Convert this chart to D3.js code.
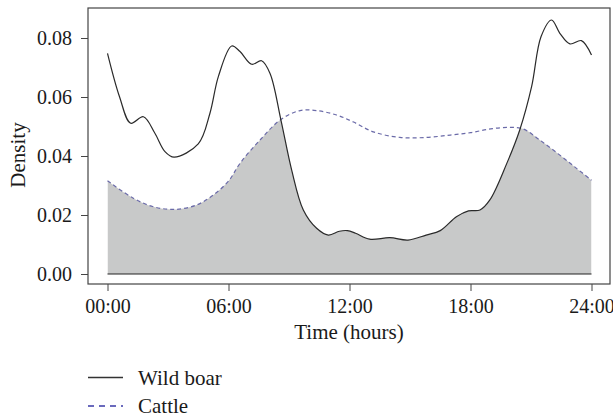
<!DOCTYPE html>
<html><head><meta charset="utf-8">
<script src="https://cdn.jsdelivr.net/npm/d3@7"></script>
<style>body{margin:0;background:#fff}svg{display:block}text{font-family:"Liberation Serif","DejaVu Serif",serif;fill:#1a1a1a}</style>
</head><body>
<svg id="c" width="613" height="413"></svg>
<script>
// Data (hours, density)
const boarHours = [0,0.6,1.15,1.78,2.35,2.85,3.3,4.5,5.08,5.5,6.16,6.57,7.15,7.64,8.06,8.6,9.13,9.71,10.37,10.95,11.5,11.9,12.3,13.0,14.0,14.9,15.8,16.5,17.3,17.9,18.47,18.96,19.8,20.45,21.03,21.5,22.02,22.43,22.93,23.5,24];
const boarDensity = [0.0748,0.0600,0.0511,0.0533,0.0477,0.0415,0.0396,0.0441,0.0545,0.0670,0.0773,0.0754,0.0711,0.0723,0.0680,0.0522,0.0353,0.0217,0.0155,0.0132,0.0145,0.0147,0.0138,0.0118,0.0123,0.0115,0.0132,0.0147,0.0194,0.0214,0.0217,0.0251,0.0375,0.0490,0.0635,0.0805,0.0861,0.0816,0.0780,0.0791,0.0742];
const cattleHours = [0,1.28,2.27,3.35,4.42,5.25,6.0,6.57,7.56,8.6,9.55,10.37,11.36,12.2,13.18,14.5,15.83,17.0,18.0,19.0,19.9,20.6,21.44,22.43,23.26,24];
const cattleDensity = [0.0316,0.0257,0.0228,0.0219,0.0234,0.0268,0.0315,0.0375,0.0454,0.0524,0.0554,0.0554,0.0539,0.0515,0.0482,0.0463,0.0463,0.0471,0.0479,0.0492,0.0497,0.0492,0.0454,0.0403,0.0358,0.0318];
const xTicks = [0,6,12,18,24];
const xTickLabels = ["00:00","06:00","12:00","18:00","24:00"];
const yTicks = [0,0.02,0.04,0.06,0.08];
const series = ["Wild boar","Cattle"];

const svg = d3.select("#c");
const box = {l:88,t:8,r:610,b:284};
const x = d3.scaleLinear().domain([0,24]).range([107.5,591.5]);
const y = d3.scaleLinear().domain([0,0.08]).range([274,38]);

const boar = boarHours.map((h,i)=>[h,boarDensity[i]]);
const cattle = cattleHours.map((h,i)=>[h,cattleDensity[i]]);
const curve = d3.curveCatmullRom.alpha(0.5);

// overlap area: area under cattle clipped by area under boar
const area = d3.area().x(d=>x(d[0])).y0(y(0)).y1(d=>y(d[1])).curve(curve);
svg.append("clipPath").attr("id","boarClip").append("path").attr("d",area(boar));
svg.append("path").attr("d",area(cattle)).attr("fill","#c8c9c9").attr("clip-path","url(#boarClip)");

// baseline
svg.append("line").attr("x1",x(0)).attr("x2",x(24)).attr("y1",y(0)).attr("y2",y(0)).attr("stroke","#222").attr("stroke-width",1.2);

const line = d3.line().x(d=>x(d[0])).y(d=>y(d[1])).curve(curve);
svg.append("path").attr("d",line(cattle)).attr("fill","none").attr("stroke","#6a6aa8").attr("stroke-width",1.2).attr("stroke-dasharray","4,3");
svg.append("path").attr("d",line(boar)).attr("fill","none").attr("stroke","#2a2a2a").attr("stroke-width",1.2);

// box
svg.append("rect").attr("x",box.l).attr("y",box.t).attr("width",box.r-box.l).attr("height",box.b-box.t).attr("fill","none").attr("stroke","#444").attr("stroke-width",1.2);

// axes
const xAxis = d3.axisBottom(x).tickValues(xTicks).tickFormat((d,i)=>xTickLabels[i]).tickSize(7).tickSizeOuter(0).tickPadding(8);
const gx = svg.append("g").attr("transform",`translate(0,${box.b})`).call(xAxis);
gx.select(".domain").remove();
gx.selectAll("line").attr("stroke","#444");
gx.selectAll("text").attr("font-size","20px").attr("font-family","Liberation Serif").attr("fill","#1a1a1a");

const yAxis = d3.axisLeft(y).tickValues(yTicks).tickFormat(d3.format(".2f")).tickSize(7).tickSizeOuter(0).tickPadding(9);
const gy = svg.append("g").attr("transform",`translate(${box.l},0)`).call(yAxis);
gy.select(".domain").remove();
gy.selectAll("line").attr("stroke","#444");
gy.selectAll("text").attr("font-size","20px").attr("font-family","Liberation Serif").attr("fill","#1a1a1a");

svg.append("text").attr("x",349).attr("y",339).attr("text-anchor","middle").attr("font-size","21px").text("Time (hours)");
svg.append("text").attr("transform","translate(25,155) rotate(-90)").attr("text-anchor","middle").attr("font-size","21px").text("Density");

// legend
const lg = svg.append("g");
lg.append("line").attr("x1",88).attr("x2",123).attr("y1",377.5).attr("y2",377.5).attr("stroke","#333").attr("stroke-width",1.3);
lg.append("line").attr("x1",88).attr("x2",123).attr("y1",406).attr("y2",406).attr("stroke","#3a3aa8").attr("stroke-width",1.3).attr("stroke-dasharray","6,5");
lg.append("text").attr("x",138).attr("y",384.5).attr("font-size","21px").text(series[0]);
lg.append("text").attr("x",138).attr("y",412.5).attr("font-size","21px").text(series[1]);
</script>
</body></html>
